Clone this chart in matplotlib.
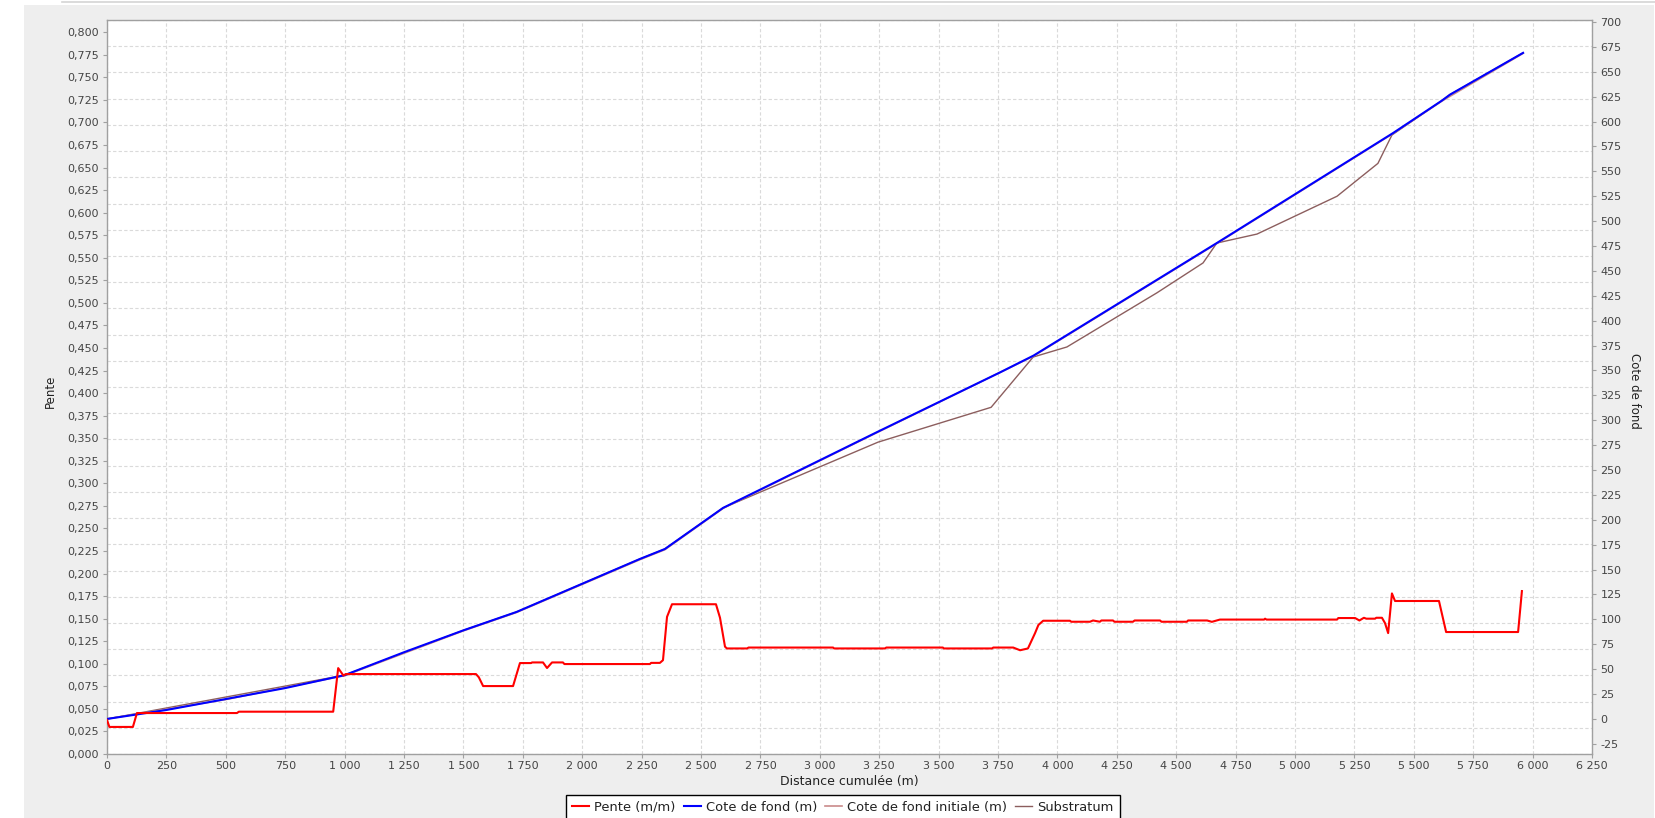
import matplotlib
matplotlib.use("Agg")
import matplotlib.pyplot as plt
from matplotlib.ticker import FuncFormatter, MultipleLocator
from matplotlib.patches import Rectangle
from matplotlib.lines import Line2D

# --- data ---
pente_x = [0, 10, 109, 126, 547, 555, 952, 973, 995, 1005, 1553, 1565, 1583, 1709, 1720, 1738,
           1785, 1789, 1835, 1852, 1873, 1919, 1925, 2285, 2290, 2327, 2340, 2357, 2378, 2563,
           2580, 2601, 2609, 2694, 2700, 3056, 3060, 3274, 3280, 3518, 3522, 3725, 3730, 3814,
           3843, 3876, 3906, 3920, 3940, 4053, 4058, 4137, 4150, 4179, 4185, 4234, 4240, 4318,
           4325, 4432, 4438, 4545, 4550, 4630, 4650, 4684, 4870, 4874, 4880, 5177, 5182, 5253,
           5271, 5290, 5300, 5337, 5342, 5366, 5379, 5392, 5408, 5421, 5606, 5636, 5939, 5955]
pente_y = [0.0377, 0.030, 0.030, 0.0454, 0.0454, 0.0469, 0.0469, 0.0952, 0.0870, 0.0886, 0.0886,
           0.085, 0.0753, 0.0753, 0.085, 0.1008, 0.1008, 0.1015, 0.1015, 0.0953, 0.1015, 0.1015,
           0.0997, 0.0997, 0.101, 0.101, 0.104, 0.152, 0.166, 0.166, 0.151, 0.119, 0.117, 0.117,
           0.118, 0.118, 0.117, 0.117, 0.118, 0.118, 0.117, 0.117, 0.118, 0.118, 0.115, 0.117,
           0.134, 0.143, 0.1477, 0.1477, 0.1466, 0.1466, 0.148, 0.1466, 0.148, 0.148, 0.1466,
           0.1466, 0.148, 0.148, 0.1466, 0.1466, 0.148, 0.148, 0.1465, 0.149, 0.149, 0.150,
           0.149, 0.149, 0.1507, 0.1507, 0.148, 0.151, 0.150, 0.150, 0.151, 0.151, 0.145, 0.134,
           0.178, 0.1696, 0.1696, 0.1352, 0.1352, 0.1806]

fond_x = [0, 250, 500, 750, 1000, 1250, 1500, 1724, 2243, 2348, 2593, 3240, 3758, 3900,
          4671, 5413, 5618, 5652, 5960]
fond_y = [0, 9, 20, 31, 44, 67, 89, 107.5, 160.7, 170.7, 212, 288, 348, 365,
          478, 588.5, 621, 627, 669]

init_x = [0, 500, 1000, 1500, 1724, 2243, 2348, 2593, 3240, 3900, 4671, 5413, 5618, 5960]
init_y = [0, 19.5, 43.5, 88.5, 107, 160, 170, 211.5, 287.5, 364.5, 477.5, 588, 620.5, 668.5]

subs_x = [0, 1000, 1500, 1724, 2243, 2348, 2593, 3245, 3721, 3898, 4040, 4419, 4613, 4671,
          4840, 5177, 5349, 5408, 5618, 5652, 5960]
subs_y = [0, 44, 89, 107.5, 160.7, 170.7, 212, 278, 313, 363.5, 373.6, 428, 458, 478,
          487, 525, 558, 586.5, 621, 627, 669]

W, H = 1656, 818
fig = plt.figure(figsize=(W / 100, H / 100), dpi=100, facecolor="white")

# grey panel behind the chart
fig.patches.append(Rectangle((24 / W, 0), (1654 - 24) / W, (H - 5) / H, transform=fig.transFigure,
                             facecolor="#eeeeee", edgecolor="none", zorder=-10))
fig.lines.append(Line2D([62 / W, 1], [1 - 1.5 / H, 1 - 1.5 / H], transform=fig.transFigure,
                        color="#d4d4d4", lw=1.2))

rect = [107 / W, (H - 754) / H, (1592 - 107) / W, (754 - 20) / H]
tick_col = "#444444"
spine_col = "#a0a0a0"

# base axes: background + grid + x axis
axg = fig.add_axes(rect)
axg.set_facecolor("white")
axg.set_xlim(0, 6250)
axg.set_ylim(0, 700)
axg.xaxis.set_major_locator(MultipleLocator(250))
axg.yaxis.set_major_locator(MultipleLocator(25))
axg.grid(True, color="#dadada", linestyle=(0, (3, 2)), linewidth=0.8)
axg.tick_params(axis="y", left=False, labelleft=False)
axg.tick_params(axis="x", length=3, width=0.8, color=spine_col, labelsize=8, labelcolor=tick_col, pad=2)
axg.xaxis.set_major_formatter(FuncFormatter(lambda v, p: f"{int(round(v)):,}".replace(",", " ")))
for s in axg.spines.values():
    s.set_color(spine_col)
    s.set_linewidth(1.0)

# right axis (cote)
axR = fig.add_axes(rect, sharex=axg)
axR.patch.set_visible(False)
for s in axR.spines.values():
    s.set_visible(False)
axR.yaxis.tick_right()
axR.set_ylim(-35.2, 702)
axR.yaxis.set_major_locator(MultipleLocator(25))
axR.yaxis.set_major_formatter(FuncFormatter(lambda v, p: f"{int(round(v))}"))
axR.tick_params(axis="y", length=3, width=0.8, color=spine_col, labelsize=8, labelcolor=tick_col, pad=3)
axR.tick_params(axis="x", bottom=False, labelbottom=False)

# left axis (pente)
axL = fig.add_axes(rect, sharex=axg)
axL.patch.set_visible(False)
for s in axL.spines.values():
    s.set_visible(False)
axL.set_ylim(0, 0.8136)
axL.yaxis.set_major_locator(MultipleLocator(0.025))
axL.yaxis.set_major_formatter(FuncFormatter(lambda v, p: f"{v:.3f}".replace(".", ",")))
axL.tick_params(axis="y", length=3, width=0.8, color=spine_col, labelsize=8, labelcolor=tick_col, pad=3)
axL.tick_params(axis="x", bottom=False, labelbottom=False)

l_sub, = axR.plot(subs_x, subs_y, color="#8c5e5e", lw=1.0, label="Substratum")
l_ini, = axR.plot(init_x, init_y, color="#c98a8a", lw=1.2, label="Cote de fond initiale (m)")
l_fond, = axR.plot(fond_x, fond_y, color="#0000ff", lw=1.5, label="Cote de fond (m)")
l_pente, = axL.plot(pente_x, pente_y, color="#ff0000", lw=1.5, label="Pente (m/m)")

fig.text(849 / W, 1 - 781 / H, "Distance cumulée (m)", ha="center", va="center",
         fontsize=9, color="#222222")
fig.text(50 / W, 1 - 391 / H, "Pente", ha="center", va="center", rotation=90,
         fontsize=8.5, color="#222222")
fig.text(1635 / W, 1 - 391 / H, "Cote de fond", ha="center", va="center", rotation=-90,
         fontsize=8.5, color="#222222")

leg = fig.legend(handles=[l_pente, l_fond, l_ini, l_sub], loc="upper center",
                 bbox_to_anchor=(843 / W, 1 - 795 / H), ncol=4, fontsize=9.4,
                 frameon=True, fancybox=False, edgecolor="black", framealpha=1,
                 handlelength=1.3, handletextpad=0.4, columnspacing=0.6,
                 borderpad=0.45, borderaxespad=0)
leg.get_frame().set_linewidth(1.0)
for t in leg.get_texts():
    t.set_color("#222222")

fig.savefig("out.png", dpi=100, facecolor=fig.get_facecolor())
